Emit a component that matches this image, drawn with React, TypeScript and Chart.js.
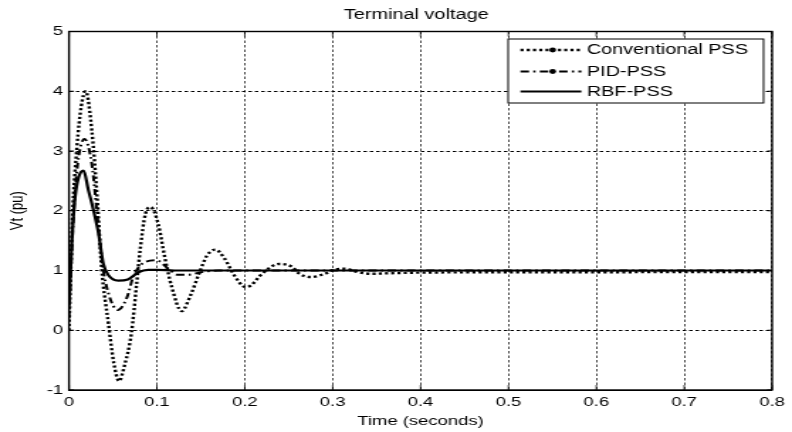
import React, { useEffect, useRef } from "react";
import { Chart, registerables } from "chart.js";

Chart.register(...registerables);

// ---------- data ----------
const chartTitle = "Terminal voltage";
const xAxisTitle = "Time (seconds)";
const yAxisTitle = "Vt (pu)";
const seriesNames = ["Conventional PSS", "PID-PSS", "RBF-PSS"];

const xTicks = [0, 0.1, 0.2, 0.3, 0.4, 0.5, 0.6, 0.7, 0.8];
const xTickLabels = ["0", "0.1", "0.2", "0.3", "0.4", "0.5", "0.6", "0.7", "0.8"];
const yTicks = [-1, 0, 1, 2, 3, 4, 5];
const yTickLabels = ["-1", "0", "1", "2", "3", "4", "5"];

const convTime = [
  0, 0.004, 0.009, 0.014, 0.019, 0.026, 0.032, 0.037, 0.045, 0.051, 0.057, 0.063,
  0.071, 0.077, 0.081, 0.087, 0.093, 0.1015, 0.109, 0.117, 0.128, 0.139, 0.148,
  0.157, 0.1665, 0.177, 0.188, 0.201, 0.207, 0.22, 0.239, 0.254, 0.2616, 0.275,
  0.292, 0.303, 0.314, 0.3295, 0.345, 0.367, 0.4, 0.5, 0.6, 0.7, 0.8,
];
const convVolt = [
  0, 1.9, 3.06, 3.75, 4.0, 3.34, 2.23, 1.06, 0.1, -0.55, -0.85, -0.6,
  -0.05, 0.78, 1.35, 1.95, 2.06, 1.78, 1.22, 0.72, 0.32, 0.61, 0.95,
  1.25, 1.35, 1.2, 0.92, 0.72, 0.75, 0.95, 1.11, 1.06, 0.95, 0.89,
  0.95, 1.02, 1.03, 0.97, 0.945, 0.955, 0.965, 0.97, 0.97, 0.975, 0.975,
];

const pidTime = [
  0, 0.004, 0.009, 0.0178, 0.026, 0.032, 0.0385, 0.045, 0.0555, 0.066, 0.073,
  0.083, 0.0997, 0.113, 0.124, 0.136, 0.15, 0.17, 0.2, 0.8,
];
const pidVolt = [
  0.2, 1.6, 2.67, 3.2, 2.78, 1.95, 1.06, 0.61, 0.34, 0.55, 0.89,
  1.11, 1.17, 1.03, 0.93, 0.93, 0.97, 1.0, 1.0, 1.0,
];

const rbfTime = [
  0, 0.0034, 0.007, 0.011, 0.0166, 0.022, 0.028, 0.0336, 0.039, 0.045, 0.056,
  0.067, 0.079, 0.09, 0.1, 0.12, 0.8,
];
const rbfVolt = [
  0.4, 1.5, 2.23, 2.56, 2.67, 2.35, 2.0, 1.62, 1.12, 0.92, 0.83,
  0.85, 0.97, 1.01, 1.01, 1.0, 1.0,
];

// ---------- layout ----------
const W = 792;
const H = 432;
const IW = 558; // internal canvas width, stretched horizontally to W
const SX = W / IW;
const FONT = "'Liberation Sans', Arial, Helvetica, sans-serif";

const pts = (t: number[], v: number[]) => t.map((x, i) => ({ x, y: v[i] }));

const styles = [
  { dash: [2.2, 2.2], width: 2.4 },
  { dash: [6, 3, 1.6, 3], width: 2 },
  { dash: [] as number[], width: 2.2 },
];

const framePlugin = {
  id: "matlabFrame",
  afterDraw(chart: any) {
    const { ctx, chartArea: a, scales } = chart;
    ctx.save();
    // inner ticks
    ctx.strokeStyle = "#000";
    ctx.lineWidth = 1;
    ctx.setLineDash([]);
    const xs = scales.x;
    const ys = scales.y;
    xTicks.forEach((v) => {
      const p = xs.getPixelForValue(v);
      ctx.beginPath();
      ctx.moveTo(p, a.bottom);
      ctx.lineTo(p, a.bottom - 5);
      ctx.moveTo(p, a.top);
      ctx.lineTo(p, a.top + 5);
      ctx.lineWidth = 0.8;
      ctx.stroke();
    });
    yTicks.forEach((v) => {
      const p = ys.getPixelForValue(v);
      ctx.beginPath();
      ctx.moveTo(a.left, p);
      ctx.lineTo(a.left + 5 / SX, p);
      ctx.moveTo(a.right, p);
      ctx.lineTo(a.right - 5 / SX, p);
      ctx.lineWidth = 1;
      ctx.stroke();
    });
    // box
    ctx.lineWidth = 1.4;
    ctx.strokeRect(a.left, a.top, a.right - a.left, a.bottom - a.top);

    // title
    ctx.fillStyle = "#000";
    ctx.font = `14px ${FONT}`;
    ctx.textAlign = "center";
    ctx.textBaseline = "alphabetic";
    ctx.fillText(chartTitle, (a.left + a.right) / 2 - 3, 19.3);

    // legend
    const bx0 = a.right - 6;
    const bx = 358;
    const by = a.top + 7.5;
    const bw = bx0 - bx;
    const bh = 64;
    ctx.fillStyle = "#fff";
    ctx.fillRect(bx, by, bw, bh);
    ctx.strokeStyle = "#000";
    ctx.lineWidth = 1;
    ctx.strokeRect(bx, by, bw, bh);
    const rows = [by + 11, by + 32.5, by + 52.5];
    chart.data.datasets.forEach((ds: any, i: number) => {
      const y = rows[i];
      ctx.beginPath();
      ctx.setLineDash(styles[i].dash);
      ctx.lineWidth = styles[i].width;
      ctx.moveTo(366.7, y);
      ctx.lineTo(409.6, y);
      ctx.stroke();
      ctx.setLineDash([]);
      if (i < 2) {
        ctx.fillStyle = "#000";
        ctx.beginPath();
        ctx.arc(389.4, y, 2.4, 0, Math.PI * 2);
        ctx.fill();
      }
      ctx.fillStyle = "#000";
      ctx.font = `14px ${FONT}`;
      ctx.textAlign = "left";
      ctx.textBaseline = "middle";
      ctx.fillText(ds.label, 413.4, y + 0.5);
    });
    ctx.restore();
  },
};

export default function App() {
  const ref = useRef<HTMLCanvasElement | null>(null);

  useEffect(() => {
    const canvas = ref.current;
    if (!canvas) return;
    const data = [pts(convTime, convVolt), pts(pidTime, pidVolt), pts(rbfTime, rbfVolt)];
    const chart = new Chart(canvas, {
      type: "line",
      data: {
        datasets: data.map((d, i) => ({
          label: seriesNames[i],
          data: d,
          borderColor: "#000",
          backgroundColor: "#000",
          borderWidth: styles[i].width,
          borderDash: styles[i].dash,
          pointRadius: 0,
          fill: false,
          cubicInterpolationMode: "monotone" as const,
          order: 2 - i,
        })),
      },
      options: {
        animation: false,
        responsive: false,
        devicePixelRatio: 1,
        events: [],
        layout: { padding: { top: 31.5, right: IW - 546.5, left: 0, bottom: 0 } },
        plugins: {
          legend: { display: false },
          title: { display: false },
          tooltip: { enabled: false },
        },
        scales: {
          x: {
            type: "linear",
            min: 0,
            max: 0.8,
            afterBuildTicks: (s: any) => {
              s.ticks = xTicks.map((value) => ({ value }));
            },
            afterFit: (s: any) => {
              s.height = H - 390;
            },
            ticks: {
              autoSkip: false,
              maxRotation: 0,
              padding: 5,
              color: "#000",
              font: { family: FONT, size: 13 },
              callback: (v: any) => {
                const i = xTicks.findIndex((t) => Math.abs(t - Number(v)) < 1e-9);
                return i >= 0 ? xTickLabels[i] : "";
              },
            },
            grid: { color: "#000", lineWidth: 0.7, drawTicks: false },
            border: { display: true, color: "#000", width: 1, dash: [2.5, 2] },
            title: {
              display: true,
              text: xAxisTitle,
              color: "#000",
              font: { family: FONT, size: 13 },
              padding: { top: 0, bottom: 3.2 },
            },
          },
          y: {
            type: "linear",
            min: -1,
            max: 5,
            afterBuildTicks: (s: any) => {
              s.ticks = yTicks.map((value) => ({ value }));
            },
            afterFit: (s: any) => {
              s.width = 48.6;
            },
            ticks: {
              autoSkip: false,
              padding: 4,
              color: "#000",
              font: { family: FONT, size: 13 },
              callback: (v: any) => {
                const i = yTicks.findIndex((t) => Math.abs(t - Number(v)) < 1e-9);
                return i >= 0 ? yTickLabels[i] : "";
              },
            },
            grid: { color: "#000", lineWidth: 1, drawTicks: false },
            border: { display: true, color: "#000", width: 1, dash: [2.5, 2] },
            title: {
              display: true,
              text: yAxisTitle,
              color: "#000",
              font: { family: FONT, size: 13 },
              padding: { top: 4.9, bottom: 0 },
            },
          },
        },
      },
      plugins: [framePlugin],
    });
    return () => chart.destroy();
  }, []);

  return (
    <div style={{ position: "fixed", left: 0, top: 0, width: W, height: H, background: "#fff" }}>
      <canvas
        ref={ref}
        width={IW}
        height={H}
        style={{ width: `${W}px`, height: `${H}px`, display: "block" }}
      />
    </div>
  );
}
